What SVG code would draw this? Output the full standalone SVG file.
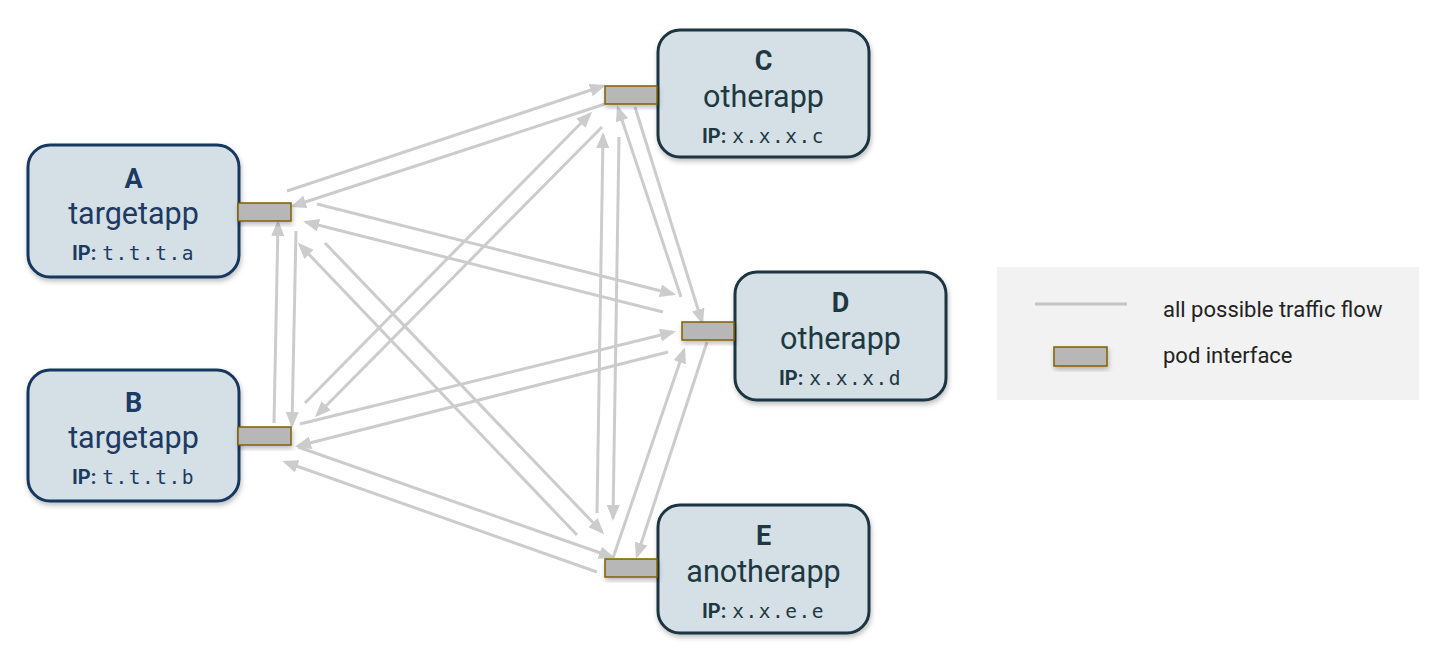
<svg xmlns="http://www.w3.org/2000/svg" width="1446" height="662" viewBox="0 0 1446 662">
<style>
.box{fill:#d5e0e6;stroke-width:3}
.ba{stroke:#17375e}
.bc{stroke:#1a3440}
.iface{fill:#b7b7b7;stroke:#7f6000;stroke-width:1.5}
.flow{stroke:#cccccc;stroke-width:3;fill:none;marker-end:url(#ah)}
.title{font-family:Roboto,"Liberation Sans",sans-serif;font-weight:bold;font-size:27px;text-anchor:middle}
.name{font-family:Roboto,"Liberation Sans",sans-serif;font-size:30.5px;text-anchor:middle}
.ip{font-family:Roboto,"Liberation Sans",sans-serif;font-size:20px;text-anchor:middle}
.ipk{font-weight:bold}
.ipv{font-family:"DejaVu Sans Mono","Liberation Mono",monospace;font-size:19.5px;letter-spacing:1.5px}
.ta{fill:#1c3a63}
.tc{fill:#1e3842}
.leg{font-family:Roboto,"Liberation Sans",sans-serif;font-size:22px;fill:#222222}
</style>
<defs>
<marker id="ah" markerUnits="userSpaceOnUse" markerWidth="16" markerHeight="13" refX="13" refY="6.5" orient="auto">
<path d="M0,0 L16,6.5 L0,13 z" fill="#cccccc"/>
</marker>
<filter id="sh" x="-20%" y="-20%" width="140%" height="150%">
<feDropShadow dx="1" dy="3" stdDeviation="2.5" flood-color="#000" flood-opacity="0.25"/>
</filter>
</defs>
<rect width="1446" height="662" fill="#ffffff"/>

<g id="legend">
<rect x="997" y="267" width="422" height="133" fill="#f2f2f2"/>
<line x1="1035" y1="304" x2="1127" y2="304" stroke="#c4c4c4" stroke-width="3"/>
<text class="leg" x="1163" y="317">all possible traffic flow</text>
<rect class="iface" x="1054" y="347" width="53" height="19" filter="url(#sh)"/>
<text class="leg" x="1163" y="363">pod interface</text>
</g>

<g id="connectors">
<path class="flow" d="M287,191 L603,86"/>
<path class="flow" d="M605,104 L293,206"/>
<path class="flow" d="M317,204 L673,294"/>
<path class="flow" d="M663,312 L306,222"/>
<path class="flow" d="M296,231 L292,425"/>
<path class="flow" d="M274,423 L278,223"/>
<path class="flow" d="M325,243 L602,532"/>
<path class="flow" d="M577,535 L300,245"/>
<path class="flow" d="M305,403 L590,114"/>
<path class="flow" d="M602,127 L317,415"/>
<path class="flow" d="M300,424 L673,332"/>
<path class="flow" d="M668,352 L298,446"/>
<path class="flow" d="M298,447 L612,557"/>
<path class="flow" d="M597,572 L285,462"/>
<path class="flow" d="M635,107 L702,322"/>
<path class="flow" d="M681,297 L618,108"/>
<path class="flow" d="M619,137 L613,518"/>
<path class="flow" d="M597,513 L603,135"/>
<path class="flow" d="M707,342 L637,556"/>
<path class="flow" d="M613,558 L684,350"/>
</g>

<g id="nodeA">
<rect class="box ba" x="28" y="145" width="211" height="132" rx="22" filter="url(#sh)"/>
<text class="title ta" x="133.5" y="188">A</text>
<text class="name ta" x="133.5" y="224">targetapp</text>
<text class="ip ta" x="133.5" y="260"><tspan class="ipk">IP:</tspan><tspan class="ipv" dx="6">t.t.t.a</tspan></text>
<rect class="iface" x="238" y="203" width="53" height="18" filter="url(#sh)"/>
</g>

<g id="nodeB">
<rect class="box ba" x="28" y="370" width="211" height="131" rx="22" filter="url(#sh)"/>
<text class="title ta" x="133.5" y="412">B</text>
<text class="name ta" x="133.5" y="448">targetapp</text>
<text class="ip ta" x="133.5" y="484"><tspan class="ipk">IP:</tspan><tspan class="ipv" dx="6">t.t.t.b</tspan></text>
<rect class="iface" x="238" y="427" width="53" height="18" filter="url(#sh)"/>
</g>

<g id="nodeC">
<rect class="box bc" x="658" y="30" width="211" height="127" rx="22" filter="url(#sh)"/>
<text class="title tc" x="763.5" y="70">C</text>
<text class="name tc" x="763.5" y="107">otherapp</text>
<text class="ip tc" x="763.5" y="143"><tspan class="ipk">IP:</tspan><tspan class="ipv" dx="6">x.x.x.c</tspan></text>
<rect class="iface" x="605" y="86" width="52" height="18" filter="url(#sh)"/>
</g>

<g id="nodeD">
<rect class="box bc" x="735" y="272" width="211" height="128" rx="22" filter="url(#sh)"/>
<text class="title tc" x="840.5" y="312">D</text>
<text class="name tc" x="840.5" y="349">otherapp</text>
<text class="ip tc" x="840.5" y="385"><tspan class="ipk">IP:</tspan><tspan class="ipv" dx="6">x.x.x.d</tspan></text>
<rect class="iface" x="682" y="322" width="52" height="18" filter="url(#sh)"/>
</g>

<g id="nodeE">
<rect class="box bc" x="658" y="505" width="211" height="128" rx="22" filter="url(#sh)"/>
<text class="title tc" x="763.5" y="545">E</text>
<text class="name tc" x="763.5" y="582">anotherapp</text>
<text class="ip tc" x="763.5" y="618"><tspan class="ipk">IP:</tspan><tspan class="ipv" dx="6">x.x.e.e</tspan></text>
<rect class="iface" x="605" y="559" width="52" height="18" filter="url(#sh)"/>
</g>
</svg>
